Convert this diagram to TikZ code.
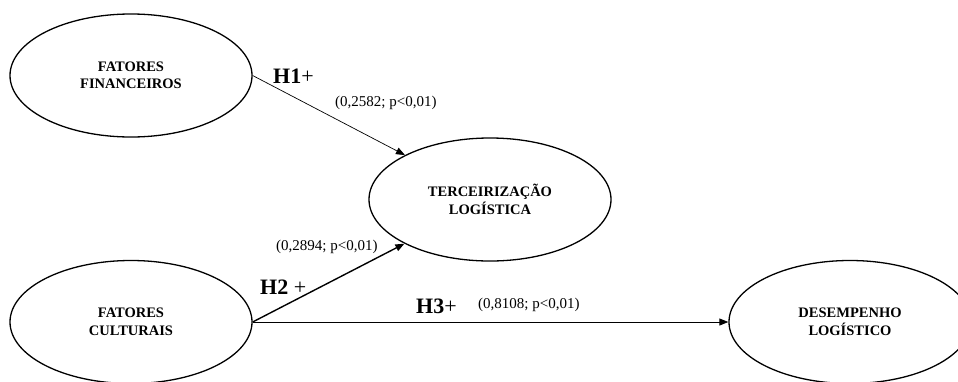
\documentclass[tikz,border=0pt]{standalone}
\usepackage{fontspec}
\setmainfont{Liberation Serif}
\usetikzlibrary{arrows.meta,shapes.geometric}
\begin{document}
\begin{tikzpicture}[x=1pt,y=-1pt,
  construct/.style={draw, line width=1.3pt, ellipse, minimum width=242pt,
    minimum height=123pt, inner sep=0pt, align=center,
    font=\fontsize{14.5}{17.5}\selectfont\bfseries},
  hyp/.style={font=\fontsize{22}{24}\selectfont, inner sep=0pt, anchor=base west},
  coef/.style={font=\fontsize{15}{16}\selectfont, inner sep=0pt, anchor=base west},
  pathto/.style={-{Triangle[length=9pt,width=7pt]}}
]
\useasboundingbox (0,0) rectangle (958,381);

% constructs
\node[construct] (fin) at (131,75.5) {FATORES\\FINANCEIROS};
\node[construct] (ter) at (490,199.5) {TERCEIRIZAÇÃO\\LOGÍSTICA};
\node[construct] (cul) at (131,322) {FATORES\\CULTURAIS};
\node[construct] (des) at (850,322) {DESEMPENHO\\LOGÍSTICO};

% structural paths
\draw[pathto, line width=0.7pt] (fin.east) -- (ter);
\draw[pathto, line width=1.4pt] (cul.east) -- (ter);
\draw[pathto, line width=0.8pt] (cul.east) -- (des);

% hypotheses and coefficients
\node[hyp] (h1) at (273,83) {\textbf{H1}+};
\node[coef] (c1) at (335,106) {(0,2582; p<0,01)};
\node[coef] (c2) at (276,250) {(0,2894; p<0,01)};
\node[hyp] (h2) at (260,294) {\textbf{H2} +};
\node[hyp] (h3) at (416,313) {\textbf{H3}+};
\node[coef] (c3) at (478,308) {(0,8108; p<0,01)};
\end{tikzpicture}
\end{document}
